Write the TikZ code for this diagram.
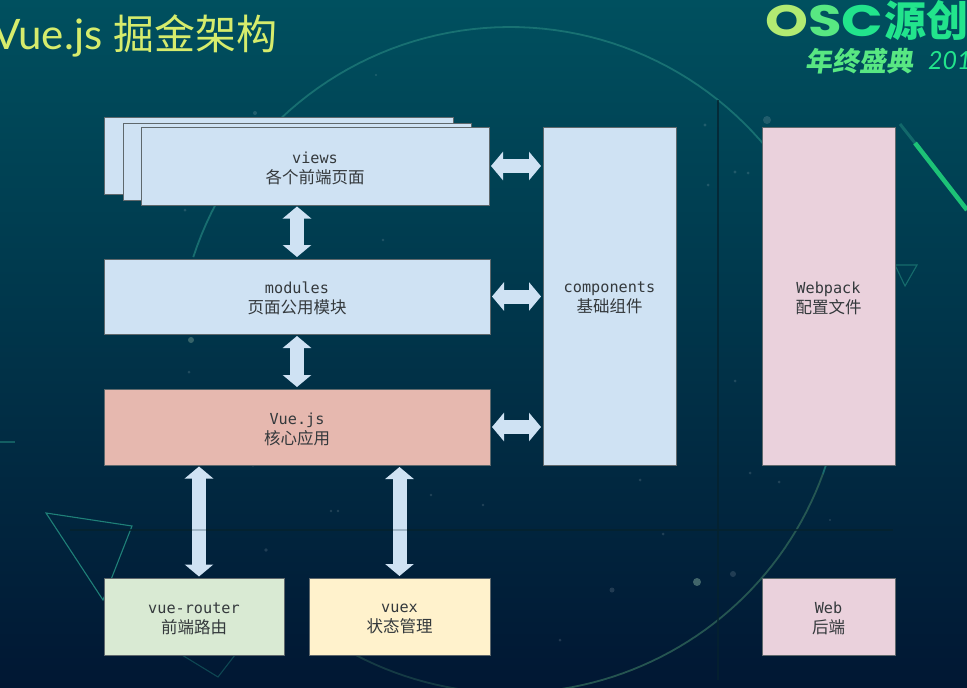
\documentclass[tikz,border=0pt]{standalone}
\usepackage{fontspec}
\setmainfont{Lato}
\setmonofont{DejaVu Sans Mono}
\newfontfamily\cjk{Noto Sans CJK SC}
\newfontfamily\logofont{Poppins}
\usetikzlibrary{arrows.meta}
\definecolor{bgtop}{HTML}{00505F}
\definecolor{bgmid}{HTML}{014A60}
\definecolor{bgbot}{HTML}{011733}
\definecolor{boxblue}{HTML}{CFE2F3}
\definecolor{boxred}{HTML}{E6B8AF}
\definecolor{boxgreen}{HTML}{D9EAD3}
\definecolor{boxyellow}{HTML}{FFF2CC}
\definecolor{boxpink}{HTML}{EAD1DC}
\definecolor{edgegray}{HTML}{5F686C}
\definecolor{txtgray}{HTML}{34393C}
\definecolor{titlecol}{HTML}{D6EC6C}
\definecolor{arccol}{HTML}{1E7A78}
\definecolor{arclow}{HTML}{2F6458}
\definecolor{logogreen}{HTML}{22E48C}
\definecolor{linedark}{HTML}{06222E}
\definecolor{triteal}{HTML}{1F8078}
\tikzset{
  x=1pt,y=-1pt,
  box/.style={draw=edgegray,line width=1pt,inner sep=0pt,align=center,text=txtgray,
     font=\ttfamily\fontsize{15.2}{20}\selectfont},
  dblarrow/.style={draw=boxblue,line width=14pt,
     {Triangle[length=12pt,width=28pt]}-{Triangle[length=12pt,width=28pt]},shorten >=1.5pt,shorten <=1.5pt},
  darkline/.style={draw=linedark,line width=1.2pt,opacity=.75},
  faintline/.style={draw=linedark,line width=1.2pt,opacity=.22},
  deco/.style={draw=triteal,line width=1.1pt},
  star/.style={fill=white,opacity=.13,draw=none},
}
\newcommand{\zh}[1]{{\cjk\fontsize{16.5}{20}\selectfont #1\par}\vspace*{-4pt}}
\begin{document}
\begin{tikzpicture}
\useasboundingbox (0,0) rectangle (967,688);
\clip (0,0) rectangle (967,688);
\shade[top color=bgtop,middle color=bgmid,bottom color=bgbot,shading angle=0] (0,0) rectangle (967,688);
% decoration
\draw[arccol,line width=1.8pt,opacity=.8] plot[domain=162:-20,samples=90] ({510+333*cos(\x)},{360-333*sin(\x)});
\draw[arclow,line width=1.8pt,opacity=.8] plot[domain=-20:-90,samples=40] ({510+333*cos(\x)},{360-333*sin(\x)});
\draw[arclow,line width=1.8pt,opacity=.45] plot[domain=-90:-125,samples=20] ({510+333*cos(\x)},{360-333*sin(\x)});
\draw[deco] (46,513) -- (132,526) -- (103,600) -- cycle;
\draw[deco,opacity=.45] (182,655) -- (218,677) -- (235,655);
\draw[deco,opacity=.7] (895,265) -- (917,265) -- (905,286) -- cycle;
\draw[deco,opacity=.6] (0,442) -- (15,442);
\draw[draw=triteal,line width=3pt,opacity=.6] (900,124) -- (915,143);
\draw[draw=logogreen!85!black,line width=4.5pt] (915,143) -- (967,210);
\foreach \p/\r in {(255,113)/2,(376,75)/1.2,(440,135)/1.5,(185,210)/1.5,(383,240)/1.4,(253,465)/1.8,(266,550)/1.8,(331,511)/1.3,(338,511)/1.3,(431,495)/1.4,(483,505)/1.4,(612,590)/2.5,(705,125)/1.6,(735,172)/1.6,(748,173)/1.5,(708,185)/1.5,(735,381)/1.5,(750,473)/1.5,(779,482)/1.5,(663,534)/1.5,(733,574)/3,(189,372)/1.5,(560,640)/1.5,(640,480)/1.5,(830,520)/1.2}
  \fill[star] \p circle[radius=\r];
\fill[arclow!70!white,opacity=.6] (697,582) circle[radius=4];
\fill[arclow!70!white,opacity=.5] (191,340) circle[radius=3];
\fill[star] (767,120) circle[radius=4];
% title and logo
\node[anchor=west,text=titlecol,inner sep=0pt,font=\fontsize{42}{44}\selectfont] (title) at (-8,36) {Vue.js {\cjk\fontsize{41}{44}\selectfont 掘金架构}};
\node[anchor=west,inner sep=0pt,font=\logofont\bfseries\fontsize{44}{46}\selectfont,xscale=1.24] (logoa) at (765,21) {\textcolor{titlecol!80!logogreen}{O}\textcolor{logogreen!70!titlecol}{S}\textcolor{logogreen}{C}};
\node[anchor=west,inner sep=0pt,text=logogreen,font=\cjk\bfseries\fontsize{42}{44}\selectfont] (logob) at (884,21) {源创};
\node[anchor=west,inner sep=0pt,text=logogreen!70!titlecol,font=\cjk\bfseries\fontsize{27}{29}\selectfont,xslant=.15] (logoc) at (807,61) {年终盛典};
\node[anchor=west,inner sep=0pt,text=logogreen,font=\itshape\fontsize{25}{27}\selectfont] (logod) at (928,61) {201};
% dark frame lines, under the boxes and arrows
\coordinate (hl) at (70,530);
\coordinate (hr) at (893,530);
\coordinate (vtop) at (718,100);
\coordinate (vbot) at (718,680);
\draw[darkline] (hl) -- (hr);
\draw[darkline] (vtop) -- (vbot);
% stacked views
\node[box,fill=boxblue,minimum width=349pt,minimum height=77pt] (back) at (278.5,155.5) {};
\node[box,fill=boxblue,minimum width=348pt,minimum height=77pt] (mid) at (297,161.5) {};
\node[box,fill=boxblue,minimum width=348pt,minimum height=78pt] (views) at (315,166) {views\\\zh{各个前端页面}};
\node[box,fill=boxblue,minimum width=386pt,minimum height=75pt] (modules) at (297,296.5) {modules\\\zh{页面公用模块}};
\node[box,fill=boxred,minimum width=386pt,minimum height=76pt] (vue) at (297,427) {Vue.js\\\zh{核心应用}};
\node[box,fill=boxblue,minimum width=133pt,minimum height=338pt] (components) at (609.5,296) {components\\\zh{基础组件}};
\node[box,fill=boxpink,minimum width=133pt,minimum height=338pt] (webpack) at (828.5,296) {Webpack\\\zh{配置文件}};
\node[box,fill=boxgreen,minimum width=180pt,minimum height=77pt] (router) at (194,616.5) {vue-router\\\zh{前端路由}};
\node[box,fill=boxyellow,minimum width=181pt,minimum height=77pt] (vuex) at (399.5,616.5) {vuex\\\zh{状态管理}};
\node[box,fill=boxpink,minimum width=133pt,minimum height=77pt] (web) at (828.5,616.5) {Web\\\zh{后端}};
% connectors
\coordinate (vt) at (297,205);
\coordinate (rt) at (199,465);
\coordinate (rb) at (199,578);
\draw[dblarrow] (views.east) -- (views.east -| components.west);
\draw[dblarrow] (modules.east) -- (modules.east -| components.west);
\draw[dblarrow] (vue.east) -- (vue.east -| components.west);
\draw[dblarrow] (vt) -- (modules.north);
\draw[dblarrow] (modules.south) -- (vue.north);
\draw[dblarrow] (rt) -- (rb);
\draw[dblarrow] (vuex.north |- vue.south) -- (vuex.north);
\draw[faintline] (hl) -- (hr);
\end{tikzpicture}
\end{document}
